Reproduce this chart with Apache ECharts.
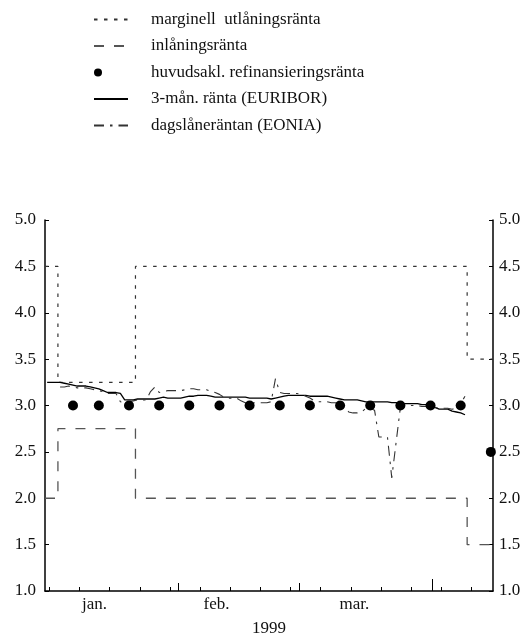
<!DOCTYPE html>
<html>
<head>
<meta charset="utf-8">
<script src="https://cdn.jsdelivr.net/npm/echarts@6/dist/echarts.min.js"></script>
<style>
  html, body { margin: 0; padding: 0; background: #fff; }
  #chart { width: 528px; height: 637px; }
</style>
</head>
<body>
<div id="chart"></div>
<script>
// Day-of-year scale (1 = 1 jan 1999). Daily values sit on their day,
// rate changes take effect at the start of the day (day - 0.5).
const axisStartDay = 0.5;
const axisEndDay = 104.5;

const monthLabels = ['jan.', 'feb.', 'mar.'];
const monthLabelDays = [12, 40.3, 72.3];
const monthStartDays = [32, 60];      // 1 feb, 1 mar
const quarterStartDays = [91];        // 1 apr
const firstWeekTickDay = 2;           // weekly ticks, start of each Saturday
const yearLabel = '1999';

// ECB rates, effective from these days
const policyChangeDays = [1, 4, 22, 99];
const marginalRate = [4.5, 3.25, 4.5, 3.5];
const depositRate = [2.0, 2.75, 2.0, 1.5];

// Main refinancing operations
const refiDays = [7, 13, 20, 27, 34, 41, 48, 55, 62, 69, 76, 83, 90, 97, 104];
const refiRate = [3, 3, 3, 3, 3, 3, 3, 3, 3, 3, 3, 3, 3, 3, 2.5];

// 3-month EURIBOR, calendar days from day 1
const euriborStartDay = 1;
const euribor = [
  3.25, 3.25, 3.25,
  3.25, 3.24, 3.23, 3.22, 3.21, 3.21, 3.21,
  3.20, 3.19, 3.18, 3.16, 3.14, 3.14, 3.14,
  3.13, 3.06, 3.06, 3.06, 3.07, 3.07, 3.07,
  3.07, 3.07, 3.08, 3.09, 3.08, 3.08, 3.08,
  3.08, 3.09, 3.10, 3.10, 3.11, 3.11, 3.11,
  3.10, 3.09, 3.09, 3.09, 3.09, 3.09, 3.09,
  3.09, 3.09, 3.08, 3.08, 3.08, 3.08, 3.08,
  3.07, 3.08, 3.09, 3.10, 3.11, 3.11, 3.11,
  3.11, 3.11, 3.10, 3.10, 3.10, 3.10, 3.10,
  3.09, 3.08, 3.07, 3.06, 3.06, 3.06, 3.06,
  3.05, 3.04, 3.04, 3.04, 3.04, 3.04, 3.04,
  3.03, 3.03, 3.03, 3.02, 3.02, 3.02, 3.02,
  3.01, 3.01, 3.00, 2.98, 2.96, 2.96, 2.96,
  2.94, 2.93, 2.92, 2.90
];

// EONIA, calendar days from day 4
const eoniaStartDay = 4;
const eonia = [
  3.20, 3.20, 3.21, 3.20, 3.19, 3.19, 3.19,
  3.18, 3.17, 3.16, 3.15, 3.13, 3.13, 3.13,
  3.04, 3.03, 3.04, 3.05, 3.06, 3.06, 3.06,
  3.15, 3.20, 3.14, 3.15, 3.16, 3.16, 3.16,
  3.16, 3.17, 3.18, 3.18, 3.17, 3.17, 3.17,
  3.15, 3.14, 3.12, 3.09, 3.08, 3.08, 3.08,
  3.05, 3.03, 3.03, 3.03, 3.03, 3.03, 3.03,
  3.04, 3.29, 3.14, 3.13, 3.13, 3.13, 3.13,
  3.12, 3.10, 3.08, 3.05, 3.04, 3.04, 3.04,
  3.03, 3.03, 3.02, 3.00, 2.93, 2.92, 2.92,
  2.93, 2.97, 2.97, 2.95, 2.66, 2.66, 2.66,
  2.22, 2.60, 2.98, 2.99, 3.00, 3.00, 3.00,
  2.99, 2.99, 2.98, 2.98, 2.97, 2.97, 2.97,
  2.96, 2.97, 3.02, 3.10
];

const seriesNames = [
  'marginell  utlåningsränta',
  'inlåningsränta',
  'huvudsakl. refinansieringsränta',
  '3-mån. ränta (EURIBOR)',
  'dagslåneräntan (EONIA)'
];

const FONT = "'Liberation Serif', 'Times New Roman', serif";

function stepData(days, rates) {
  const pts = days.map((d, i) => [d - 0.5, rates[i]]);
  pts.push([axisEndDay, rates[rates.length - 1]]);
  return pts;
}
function dailyData(start, values) {
  return values.map((v, i) => [start + i, v]);
}
function boundaries(days) {
  return days.map(d => d - 0.5);
}
function monthName(v) {
  let best = 0;
  monthLabelDays.forEach((d, i) => {
    if (Math.abs(d - v) < Math.abs(monthLabelDays[best] - v)) best = i;
  });
  return monthLabels[best];
}
const weekTicks = [];
for (let d = firstWeekTickDay; d - 0.5 < axisEndDay - 1; d += 7) weekTicks.push(d - 0.5);

const chart = echarts.init(document.getElementById('chart'), null, { renderer: 'canvas' });

const baseX = {
  type: 'value',
  min: axisStartDay,
  max: axisEndDay,
  gridIndex: 0,
  position: 'bottom',
  splitLine: { show: false }
};

const yAxisCommon = {
  type: 'value',
  min: 1,
  max: 5,
  interval: 0.5,
  splitLine: { show: false },
  axisLine: { show: true, lineStyle: { color: '#000', width: 1.5 } },
  axisTick: { show: true, inside: true, length: 4, lineStyle: { color: '#000', width: 1 } },
  axisLabel: {
    fontFamily: FONT, fontSize: 17, color: '#111',
    formatter: v => v.toFixed(1)
  }
};

chart.setOption({
  animation: false,
  backgroundColor: '#fff',
  textStyle: { fontFamily: FONT },
  grid: { left: 45, right: 35, top: 220, bottom: 46, containLabel: false, outerBoundsMode: 'none' },
  legend: {
    orient: 'vertical',
    left: 93,
    top: 11,
    padding: 0,
    itemWidth: 34,
    itemHeight: 10,
    itemGap: 9.5,
    selectedMode: false,
    itemStyle: { opacity: 0 },
    textStyle: { fontFamily: FONT, fontSize: 17, color: '#111', padding: [0, 0, 0, 18] },
    data: [
      { name: seriesNames[0] },
      { name: seriesNames[1] },
      {
        name: seriesNames[2],
        icon: 'path://M0,0M34,10M0,5A4,4,0,1,1,8,5A4,4,0,1,1,0,5Z',
        itemStyle: { opacity: 1, color: '#000' }
      },
      { name: seriesNames[3] },
      { name: seriesNames[4] }
    ]
  },
  xAxis: [
    Object.assign({}, baseX, {
      name: yearLabel,
      nameLocation: 'middle',
      nameGap: 29,
      nameTextStyle: { fontFamily: FONT, fontSize: 17, color: '#111' },
      axisLine: { show: true, lineStyle: { color: '#000', width: 1.5 } },
      axisTick: { show: true, inside: true, length: 4, customValues: weekTicks, lineStyle: { color: '#000' } },
      axisLabel: {
        show: true, margin: 5, fontFamily: FONT, fontSize: 17, color: '#111',
        showMinLabel: true, showMaxLabel: true, hideOverlap: false,
        customValues: monthLabelDays,
        formatter: v => monthName(v)
      }
    }),
    Object.assign({}, baseX, {
      axisLine: { show: false },
      axisTick: { show: true, inside: true, length: 8, customValues: boundaries(monthStartDays), lineStyle: { color: '#000' } },
      axisLabel: { show: false }
    }),
    Object.assign({}, baseX, {
      axisLine: { show: false },
      axisTick: { show: true, inside: true, length: 12, customValues: boundaries(quarterStartDays), lineStyle: { color: '#000' } },
      axisLabel: { show: false }
    })
  ],
  yAxis: [
    Object.assign({}, yAxisCommon, { position: 'left', axisLabel: Object.assign({}, yAxisCommon.axisLabel, { margin: 9 }) }),
    Object.assign({}, yAxisCommon, { position: 'right', axisLabel: Object.assign({}, yAxisCommon.axisLabel, { margin: 6 }) })
  ],
  series: [
    {
      name: seriesNames[0],
      type: 'line',
      step: 'end',
      symbol: 'none',
      data: stepData(policyChangeDays, marginalRate),
      lineStyle: { color: '#333', width: 1.2, type: [3.5, 6.5] },
      itemStyle: { color: '#333' },
      z: 2
    },
    {
      name: seriesNames[1],
      type: 'line',
      step: 'end',
      symbol: 'none',
      data: stepData(policyChangeDays, depositRate),
      lineStyle: { color: '#555', width: 1.3, type: [10, 10] },
      itemStyle: { color: '#555' },
      z: 2
    },
    {
      name: seriesNames[2],
      type: 'scatter',
      symbol: 'circle',
      symbolSize: 10,
      data: refiDays.map((d, i) => [d, refiRate[i]]),
      itemStyle: { color: '#000', opacity: 1 },
      z: 5
    },
    {
      name: seriesNames[3],
      type: 'line',
      symbol: 'none',
      data: dailyData(euriborStartDay, euribor),
      lineStyle: { color: '#000', width: 1.3 },
      itemStyle: { color: '#000' },
      z: 3
    },
    {
      name: seriesNames[4],
      type: 'line',
      symbol: 'none',
      data: dailyData(eoniaStartDay, eonia),
      lineStyle: { color: '#333', width: 1.1, type: [10, 6, 2.5, 6] },
      itemStyle: { color: '#333' },
      z: 3
    }
  ]
});
</script>
</body>
</html>
